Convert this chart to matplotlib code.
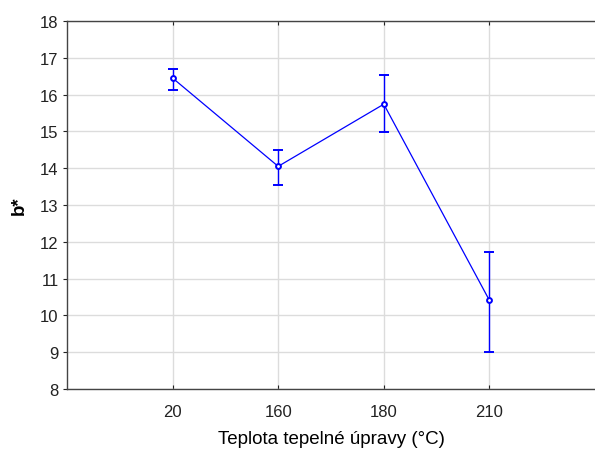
import numpy as np
import matplotlib
matplotlib.use('Agg')
from matplotlib import pyplot as plt

# heat treatment temperature groups and b* colour values (mean, lower, upper)
teploty = ['20', '160', '180', '210']
b_mean = [16.45, 14.05, 15.74, 10.41]
b_low = [16.12, 13.54, 14.98, 9.00]
b_high = [16.70, 14.50, 16.52, 11.73]

plt.rcParams['font.family'] = ['Liberation Sans', 'DejaVu Sans']

fig = plt.figure(figsize=(5.95, 4.52), dpi=100)
ax = fig.add_axes([0.1126, 0.1372, 0.8874, 0.8141])

x = np.arange(len(teploty))
mean = np.array(b_mean)
err = [mean - np.array(b_low), np.array(b_high) - mean]

ax.errorbar(x, mean, yerr=err, color='#0000ff', linewidth=0.9, elinewidth=1.0,
            capsize=3.6, capthick=0.9, marker='o', markersize=3.5,
            markerfacecolor='white', markeredgecolor='#0000ff', markeredgewidth=1.4,
            zorder=3)

ax.set_xlim(-1, 4)
ax.set_ylim(8, 18)
ax.set_xticks(x)
ax.set_xticklabels(teploty)
ax.set_yticks(range(8, 19))
ax.grid(True, color='#dcdcdc', linewidth=1.0)
ax.set_axisbelow(True)

for s in ['left', 'bottom', 'top']:
    ax.spines[s].set_color('#444444')
    ax.spines[s].set_linewidth(1.0)
ax.spines['right'].set_visible(False)

ax.tick_params(axis='both', labelsize=12, colors='#222222', length=3)
ax.tick_params(axis='x', direction='in', top=True, length=3, pad=11)
ax.tick_params(axis='y', direction='out', length=3, pad=3)

ax.set_xlabel('Teplota tepelné úpravy (°C)', fontsize=13.5, labelpad=8)
ax.set_ylabel('b*', fontsize=13.5, fontweight='bold', labelpad=9)

fig.savefig('out.png', dpi=100)
